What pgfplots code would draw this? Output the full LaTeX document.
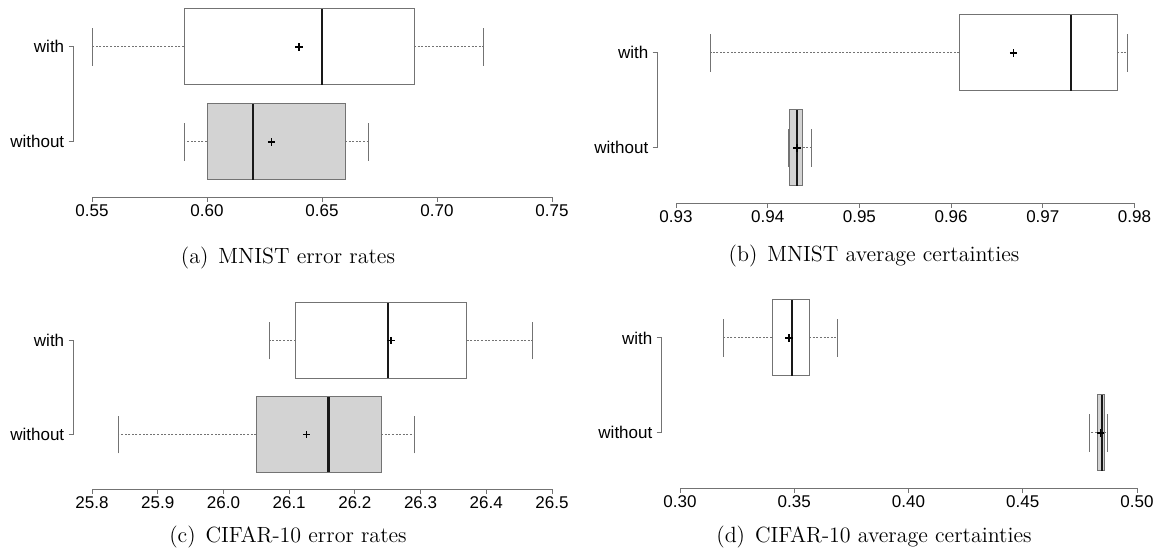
\documentclass[border=0pt]{standalone}
\usepackage{fontspec}
\newfontfamily\arial{Liberation Sans}
\usepackage{pgfplots}
\pgfplotsset{compat=1.18}
\usepgfplotslibrary{statistics}

\definecolor{rline}{gray}{0.45}
\definecolor{rfill}{gray}{0.827}

\pgfplotsset{
  rbox/.style={
    scale only axis,
    clip=false,
    axis x line*=bottom,
    axis y line*=left,
    axis line style={draw=none},
    ymin=0.42, ymax=2.58,
    ytick={1,2},
    yticklabels={without,with},
    tick align=outside,
    major tick length=2.5pt,
    tick style={draw=rline, line width=0.5pt},
    xticklabel style={font=\arial\fontsize{8.5}{10}\selectfont, anchor=north, inner sep=0pt, yshift=-1.2pt},
    yticklabel style={font=\arial\fontsize{8.5}{10}\selectfont, anchor=east, inner sep=0pt, xshift=-2pt},
    boxplot/draw direction=x,
    boxplot/box extend=0.8,
    boxplot/whisker extend=0.4,
  },
  rplot/.style={
    color=black, line width=0.6pt, solid,
    mark options={black, solid, line width=0.6pt},
    boxplot/every box/.style={draw=rline, line width=0.5pt},
    boxplot/every median/.style={draw=black!90, line width=1.1pt},
    boxplot/every average/.style={/tikz/mark=+, /tikz/mark size=1.8pt},
    boxplot/draw/whisker/.code 2 args={
      \draw[rline, line width=0.5pt, dash pattern=on 1pt off 0.8pt] (boxplot cs:##1) -- (boxplot cs:##2);
      \draw[rline, line width=0.5pt] (boxplot whisker cs:##2,0) -- (boxplot whisker cs:##2,1);
    },
  },
  rfilled/.style={rplot, boxplot/every box/.style={draw=rline, line width=0.5pt, fill=rfill}},
}

\begin{document}
\begin{tikzpicture}
\useasboundingbox (0pt,0pt) rectangle (579pt,-276pt);

% (a) MNIST error rates
\begin{axis}[rbox, at={(36.8pt,-98.5pt)}, anchor=south west,
  width=248.4pt, height=102.6pt, xmin=0.542, xmax=0.758,
  xtick={0.55,0.60,0.65,0.70,0.75}, xticklabels={0.55,0.60,0.65,0.70,0.75}]
  \addplot[rplot, boxplot prepared={draw position=2, lower whisker=0.55, lower quartile=0.59,
    median=0.65, upper quartile=0.69, upper whisker=0.72, average=0.640}] coordinates {};
  \addplot[rfilled, boxplot prepared={draw position=1, lower whisker=0.59, lower quartile=0.60,
    median=0.62, upper quartile=0.66, upper whisker=0.67, average=0.628}] coordinates {};
  \draw[rline, line width=0.5pt] (axis cs:0.55,0.42) -- (axis cs:0.75,0.42);
  \draw[rline, line width=0.5pt] (axis cs:0.542,1) -- (axis cs:0.542,2);
\end{axis}

% (b) MNIST average certainties
\begin{axis}[rbox, at={(328.83pt,-101.5pt)}, anchor=south west,
  width=247.59pt, height=102.6pt, xmin=0.928, xmax=0.982,
  xtick={0.93,0.94,0.95,0.96,0.97,0.98}, xticklabels={0.93,0.94,0.95,0.96,0.97,0.98}]
  \addplot[rplot, boxplot prepared={draw position=2, lower whisker=0.9338, lower quartile=0.9609,
    median=0.9731, upper quartile=0.9781, upper whisker=0.9792, average=0.9668}] coordinates {};
  \addplot[rfilled, boxplot prepared={draw position=1, lower whisker=0.9423, lower quartile=0.9424,
    median=0.9432, upper quartile=0.9438, upper whisker=0.9448, average=0.9432}] coordinates {};
  \draw[rline, line width=0.5pt] (axis cs:0.93,0.42) -- (axis cs:0.98,0.42);
  \draw[rline, line width=0.5pt] (axis cs:0.928,1) -- (axis cs:0.928,2);
\end{axis}

% (c) CIFAR-10 error rates
\begin{axis}[rbox, at={(36.8pt,-244.5pt)}, anchor=south west,
  width=248.4pt, height=101.52pt, xmin=25.772, xmax=26.528,
  xtick={25.8,25.9,26.0,26.1,26.2,26.3,26.4,26.5}, xticklabels={25.8,25.9,26.0,26.1,26.2,26.3,26.4,26.5}]
  \addplot[rplot, boxplot prepared={draw position=2, lower whisker=26.07, lower quartile=26.11,
    median=26.251, upper quartile=26.37, upper whisker=26.47, average=26.255}] coordinates {};
  \addplot[rfilled, boxplot prepared={draw position=1, lower whisker=25.84, lower quartile=26.05,
    median=26.16, upper quartile=26.24, upper whisker=26.29, average=26.127}] coordinates {};
  \draw[rline, line width=0.5pt] (axis cs:25.8,0.42) -- (axis cs:26.5,0.42);
  \draw[rline, line width=0.5pt] (axis cs:25.772,1) -- (axis cs:25.772,2);
\end{axis}

% (d) CIFAR-10 average certainties
\begin{axis}[rbox, at={(330.86pt,-244pt)}, anchor=south west,
  width=246.78pt, height=102.6pt, xmin=0.292, xmax=0.508,
  xtick={0.30,0.35,0.40,0.45,0.50}, xticklabels={0.30,0.35,0.40,0.45,0.50}]
  \addplot[rplot, boxplot prepared={draw position=2, lower whisker=0.3192, lower quartile=0.3403,
    median=0.3489, upper quartile=0.3565, upper whisker=0.369, average=0.3477}] coordinates {};
  \addplot[rfilled, boxplot prepared={draw position=1, lower whisker=0.479, lower quartile=0.4825,
    median=0.4848, upper quartile=0.4856, upper whisker=0.4869, average=0.4840}] coordinates {};
  \draw[rline, line width=0.5pt] (axis cs:0.30,0.42) -- (axis cs:0.50,0.42);
  \draw[rline, line width=0.5pt] (axis cs:0.292,1) -- (axis cs:0.292,2);
\end{axis}

\node[font=\fontsize{11}{13}\selectfont] at (144pt,-129pt) {(a)\hspace{0.45em}MNIST error rates};
\node[font=\fontsize{11}{13}\selectfont] at (437pt,-128pt) {(b)\hspace{0.45em}MNIST average certainties};
\node[font=\fontsize{11}{13}\selectfont] at (144pt,-268.5pt) {(c)\hspace{0.45em}CIFAR-10 error rates};
\node[font=\fontsize{11}{13}\selectfont] at (437pt,-268.5pt) {(d)\hspace{0.45em}CIFAR-10 average certainties};
\end{tikzpicture}
\end{document}
